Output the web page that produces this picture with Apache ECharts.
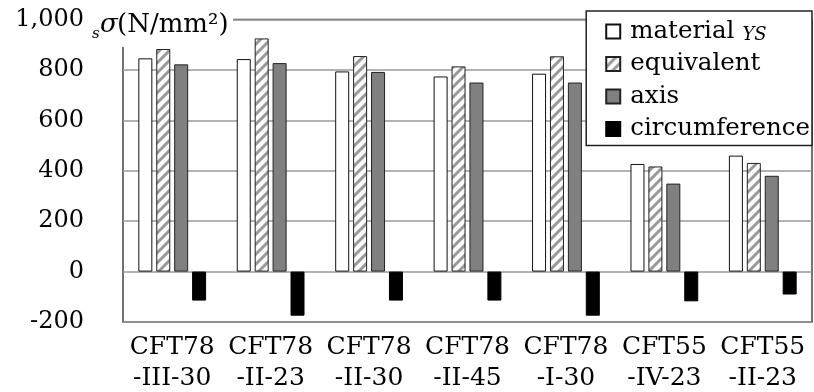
<!DOCTYPE html>
<html><head><meta charset="utf-8">
<script src="https://cdn.jsdelivr.net/npm/echarts@6/dist/echarts.min.js"></script>
<style>html,body{margin:0;padding:0;background:#fff}#c{width:814px;height:392px}</style>
</head><body><div id="c"></div>
<script>
const categories = ['CFT78\n-III-30','CFT78\n-II-23','CFT78\n-II-30','CFT78\n-II-45','CFT78\n-I-30','CFT55\n-IV-23','CFT55\n-II-23'];
const seriesNames = ['material YS','equivalent','axis','circumference'];
const materialYS = [846, 843, 794, 774, 785, 427, 460];
const equivalent = [883, 925, 855, 814, 854, 417, 431];
const axisStress = [822, 827, 792, 750, 750, 349, 380];
const circumference = [-115, -175, -115, -115, -175, -118, -91];
const yTicks = {min: -200, max: 1000, interval: 200};

const FONT = '"DejaVu Serif", "Liberation Serif", serif';

// hatch pattern
const P = 10;
const pc = document.createElement('canvas');
pc.width = P; pc.height = P;
const g = pc.getContext('2d');
g.fillStyle = '#fbfbfb'; g.fillRect(0,0,P,P);
g.strokeStyle = '#999'; g.lineWidth = 3;
g.beginPath();
g.moveTo(-2, P+2); g.lineTo(P+2, -2);
g.moveTo(-P-2, P+2); g.lineTo(2, -2);
g.moveTo(P-2, P+2); g.lineTo(2*P+2, -2);
g.stroke();

const chart = echarts.init(document.getElementById('c'), null, {renderer: 'canvas'});
const barW = 14;
chart.setOption({
  animation: false,
  backgroundColor: '#fff',
  textStyle: {fontFamily: FONT, color: '#000'},
  grid: {left: 123, right: 2, top: 19.5, bottom: 70, outerBoundsMode: 'none', containLabel: false,
         show: true, borderColor: '#444', borderWidth: 1.5, backgroundColor: 'transparent'},
  legend: {
    orient: 'vertical', right: 2, top: 11,
    backgroundColor: '#fff', borderColor: '#222', borderWidth: 1.5,
    padding: [8, 2, 4, 19],
    itemWidth: 14, itemHeight: 14, itemGap: 7.5,
    icon: 'rect',
    textStyle: {fontFamily: FONT, fontSize: 24.5, lineHeight: 25, color: '#000',
      rich: {a: {fontFamily: FONT, fontSize: 24.5, lineHeight: 25, color: '#000', padding: [0, 0, 0, 5], verticalAlign: 'bottom'},
             b: {fontFamily: FONT, fontSize: 18, lineHeight: 25, fontStyle: 'italic', color: '#000', padding: [0, 0, 0, 8], verticalAlign: 'bottom'}}},
    formatter: n => n === 'material YS' ? '{a|material}{b|YS}' : '{a|' + n + '}',
    data: seriesNames
  },
  xAxis: {
    type: 'category', data: categories,
    axisLine: {show: false}, axisTick: {show: false},
    axisLabel: {fontFamily: FONT, fontSize: 25, lineHeight: 31, color: '#000', margin: 10, interval: 0}
  },
  yAxis: {
    type: 'value', min: yTicks.min, max: yTicks.max, interval: yTicks.interval,
    axisLine: {show: false}, axisTick: {show: false},
    splitLine: {lineStyle: {color: '#999', width: 1.5}},
    axisLabel: {fontFamily: FONT, fontSize: 24, color: '#000', margin: 39,
      formatter: v => v === 1000 ? '1,000' : String(v)}
  },
  graphic: [
    {type: 'rect', z: 100, shape: {x: 88, y: 7, width: 145, height: 40}, style: {fill: '#fff'}},
    {type: 'text', z: 101, x: 92, y: 34,
     style: {text: 's', fill: '#000', font: 'italic 15px ' + FONT, textAlign: 'left', textVerticalAlign: 'middle'}},
    {type: 'text', z: 101, x: 100, y: 25,
     style: {text: 'σ', fill: '#000', font: 'italic 26px ' + FONT, textAlign: 'left', textVerticalAlign: 'middle'}},
    {type: 'text', z: 101, x: 117, y: 25,
     style: {text: '(N/mm²)', fill: '#000', font: '26px ' + FONT, textAlign: 'left', textVerticalAlign: 'middle'}}
  ],
  series: [
    {name: seriesNames[0], type: 'bar', data: materialYS, barWidth: barW, barGap: '28%',
     itemStyle: {color: '#fff', borderColor: '#111', borderWidth: 1}},
    {name: seriesNames[1], type: 'bar', data: equivalent, barWidth: barW,
     itemStyle: {color: {image: pc, repeat: 'repeat'}, borderColor: '#222', borderWidth: 1}},
    {name: seriesNames[2], type: 'bar', data: axisStress, barWidth: barW,
     itemStyle: {color: '#808080', borderColor: '#222', borderWidth: 1}},
    {name: seriesNames[3], type: 'bar', data: circumference, barWidth: barW,
     itemStyle: {color: '#000', borderColor: '#000', borderWidth: 1}}
  ]
});
</script></body></html>
